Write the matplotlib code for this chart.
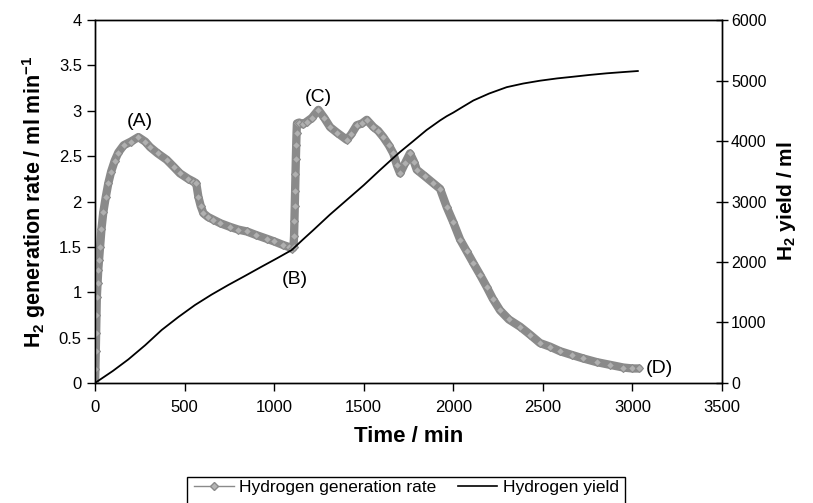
import matplotlib
matplotlib.use("Agg")
import matplotlib.pyplot as plt
from matplotlib.lines import Line2D
from matplotlib.patches import Rectangle

# hydrogen generation rate (ml/min)
rate_time = [0, 2, 4, 6, 8, 10, 14, 18, 22, 28, 36, 46, 60, 74, 90, 110, 130, 160,
             200, 242, 280, 307, 350, 400, 440, 474, 520, 549, 565, 577, 590, 605,
             630, 660, 700, 754, 800, 847, 900, 958, 1000, 1051, 1080, 1098, 1108,
             1111, 1113, 1115, 1117, 1119, 1121, 1123, 1125, 1127, 1140, 1160, 1182,
             1210, 1247, 1280, 1312, 1350, 1405, 1430, 1461, 1490, 1517, 1554, 1580,
             1609, 1640, 1665, 1685, 1703, 1730, 1758, 1780, 1796, 1840, 1889, 1926,
             1963, 2000, 2038, 2075, 2112, 2150, 2186, 2220, 2261, 2310, 2373, 2430,
             2484, 2540, 2596, 2660, 2726, 2800, 2875, 2950, 3000, 3035]
rate_vals = [0.0, 0.15, 0.35, 0.55, 0.75, 0.95, 1.1, 1.25, 1.35, 1.5, 1.7, 1.88, 2.05,
             2.2, 2.33, 2.45, 2.54, 2.62, 2.66, 2.71, 2.66, 2.6, 2.53, 2.46, 2.38,
             2.31, 2.25, 2.22, 2.2, 2.05, 1.95, 1.87, 1.83, 1.8, 1.76, 1.72, 1.69,
             1.67, 1.63, 1.59, 1.56, 1.52, 1.5, 1.48, 1.5, 1.62, 1.78, 1.95, 2.12,
             2.3, 2.47, 2.62, 2.76, 2.86, 2.87, 2.85, 2.88, 2.92, 3.01, 2.92, 2.82,
             2.76, 2.68, 2.74, 2.84, 2.86, 2.9, 2.82, 2.78, 2.71, 2.62, 2.53, 2.4,
             2.31, 2.42, 2.53, 2.44, 2.35, 2.28, 2.2, 2.14, 1.94, 1.77, 1.58, 1.45,
             1.32, 1.19, 1.06, 0.93, 0.8, 0.7, 0.62, 0.53, 0.44, 0.4, 0.35, 0.31,
             0.27, 0.23, 0.2, 0.17, 0.16, 0.16]

# cumulative hydrogen yield (ml)
yield_time = [0, 100, 186, 280, 372, 465, 558, 650, 744, 837, 930, 1015, 1098,
              1160, 1219, 1310, 1405, 1500, 1591, 1665, 1703, 1777, 1850, 1926, 1963,
              2000, 2050, 2112, 2200, 2298, 2390, 2484, 2580, 2670, 2760, 2856, 2950,
              3030]
yield_vals = [0, 200, 390, 625, 876, 1090, 1289, 1460, 1620, 1770, 1923, 2060, 2198,
              2370, 2529, 2780, 3025, 3270, 3521, 3720, 3820, 4000, 4180, 4340, 4410,
              4470, 4560, 4670, 4785, 4890, 4950, 4997, 5035, 5063, 5092, 5119, 5140,
              5157]

labels = ["(A)", "(B)", "(C)", "(D)"]
label_x = [251, 1116, 1245, 3150]
label_y = [2.88, 1.135, 3.15, 0.165]

plt.rcParams["font.family"] = ["Liberation Sans", "DejaVu Sans"]
plt.rcParams["mathtext.fontset"] = "custom"
plt.rcParams["mathtext.rm"] = "Liberation Sans"
plt.rcParams["mathtext.bf"] = "Liberation Sans:bold"

gray = "#8a8a8a"

fig = plt.figure(figsize=(8.13, 5.03), dpi=100)
ax = fig.add_axes([0.1169, 0.2386, 0.7712, 0.7216])
ax2 = ax.twinx()

ax.plot(rate_time, rate_vals, color=gray, linewidth=6, solid_capstyle="round",
        solid_joinstyle="round", zorder=3)
ax.plot(rate_time, rate_vals, linestyle="none", marker="D", markersize=4.5,
        markerfacecolor="#b0b0b0", markeredgecolor=gray, markeredgewidth=0.8, zorder=4)
ax2.plot(yield_time, yield_vals, color="black", linewidth=1.3)

ax.set_xlim(0, 3500)
ax.set_ylim(0, 4)
ax2.set_ylim(0, 6000)
ax.set_xticks(range(0, 3501, 500))
ax.set_yticks([0, 0.5, 1, 1.5, 2, 2.5, 3, 3.5, 4])
ax.set_yticklabels(["0", "0.5", "1", "1.5", "2", "2.5", "3", "3.5", "4"])
ax2.set_yticks(range(0, 6001, 1000))

ax.tick_params(axis="both", labelsize=12, length=6, width=1, colors="black")
ax.tick_params(axis="x", pad=6)
ax2.tick_params(axis="y", direction="inout", labelsize=11.5, length=9, width=1, pad=2)
for sp in list(ax.spines.values()) + list(ax2.spines.values()):
    sp.set_linewidth(1)
    sp.set_color("black")

ax.set_xlabel("Time / min", fontsize=16, fontweight="bold", labelpad=8)
ax.set_ylabel(r"$\mathbf{H_2}$ generation rate / ml min$^{\mathbf{-1}}$",
              fontsize=15.5, fontweight="bold", labelpad=8)
ax2.set_ylabel(r"$\mathbf{H_2}$ yield / ml", fontsize=15, fontweight="bold",
               labelpad=6)

for txt, tx, ty in zip(labels, label_x, label_y):
    ax.text(tx, ty, txt, fontsize=14, ha="center", va="center", zorder=5)

handles = [
    Line2D([], [], color=gray, linewidth=1, marker="D", markersize=4,
           markerfacecolor="#b5b5b5", markeredgecolor=gray),
    Line2D([], [], color="black", linewidth=1.2),
]
leg = fig.legend(handles, ["Hydrogen generation rate", "Hydrogen yield"],
                 loc="center", bbox_to_anchor=(0.5, 0.031), ncol=2,
                 fontsize=12.5, frameon=False, numpoints=1, handlelength=2.3,
                 handletextpad=0.3, columnspacing=1.2, borderpad=0.2)

# legend frame runs past the bottom edge, as in the original
fig.patches.append(Rectangle((0.230, -0.05), 0.539, 0.1017, transform=fig.transFigure,
                             fill=False, edgecolor="black", linewidth=1))

fig.savefig("out.png", dpi=100)
